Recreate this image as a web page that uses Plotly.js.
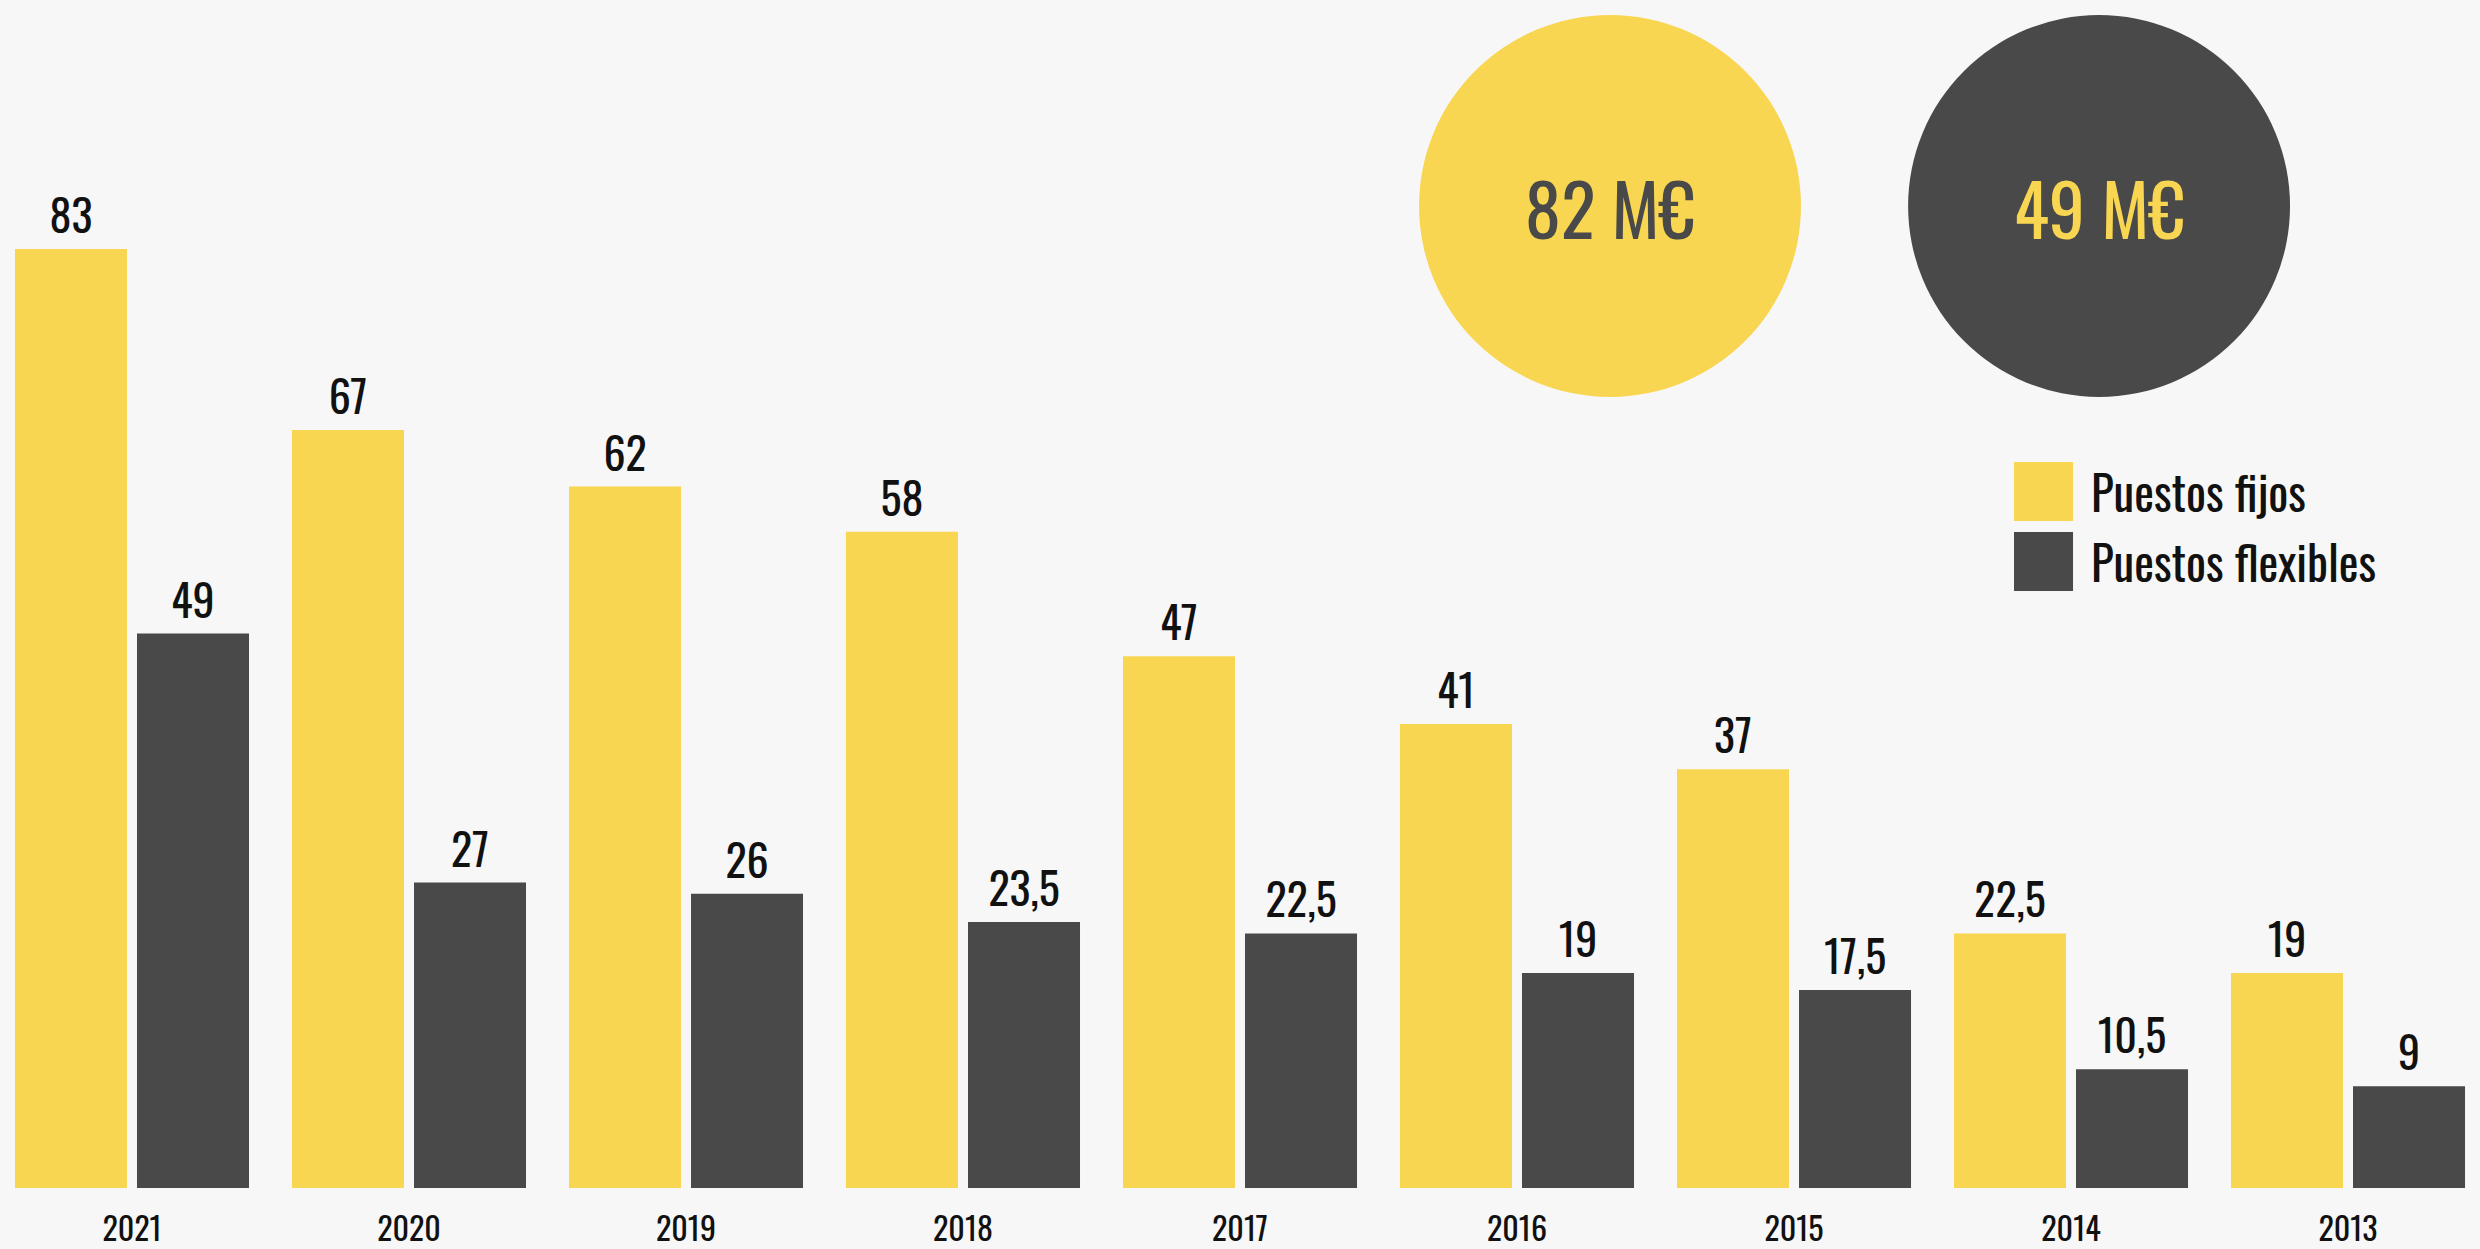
<!DOCTYPE html>
<html>
<head>
<meta charset="utf-8">
<script src="https://cdn.plot.ly/plotly-3.0.1.min.js"></script>
<style>
  html, body { margin: 0; padding: 0; background: #f7f7f7; }
  #chart { width: 2480px; height: 1249px; }
</style>
</head>
<body>
<div id="chart"></div>
<script>
// Data
const years = ['2021', '2020', '2019', '2018', '2017', '2016', '2015', '2014', '2013'];
const fijos = [83, 67, 62, 58, 47, 41, 37, 22.5, 19];
const flexibles = [49, 27, 26, 23.5, 22.5, 19, 17.5, 10.5, 9];
const seriesNames = ['Puestos fijos', 'Puestos flexibles'];
const totals = [82, 49];

const YELLOW = '#f9d651';
const DARK = '#494949';
const FONT = "Oswald, 'Liberation Sans Narrow', 'DejaVu Sans Condensed', sans-serif";

// Spanish decimal comma for the value labels
const fmt = v => String(v).replace('.', ',');

const traces = [
  {
    x: years,
    y: fijos,
    type: 'bar',
    name: seriesNames[0],
    marker: { color: YELLOW },
    text: fijos.map(fmt),
    textposition: 'outside',
    textfont: { family: FONT, size: 44, color: '#111111' },
    constraintext: 'none',
    cliponaxis: false,
    hoverinfo: 'skip'
  },
  {
    x: years,
    y: flexibles,
    type: 'bar',
    name: seriesNames[1],
    marker: { color: DARK },
    text: flexibles.map(fmt),
    textposition: 'outside',
    textfont: { family: FONT, size: 44, color: '#111111' },
    constraintext: 'none',
    cliponaxis: false,
    hoverinfo: 'skip'
  }
];

// Big total circles and the hand-made legend, in paper coordinates
const shapes = [
  { type: 'circle', xref: 'paper', yref: 'paper', x0: 0.5722, x1: 0.7262, y0: 0.6658, y1: 0.9874,
    fillcolor: YELLOW, line: { width: 0 } },
  { type: 'circle', xref: 'paper', yref: 'paper', x0: 0.7694, x1: 0.9234, y0: 0.6658, y1: 0.9874,
    fillcolor: DARK, line: { width: 0 } },
  { type: 'rect', xref: 'paper', yref: 'paper', x0: 0.8121, x1: 0.8359, y0: 0.5614, y1: 0.6111,
    fillcolor: YELLOW, line: { width: 0 } },
  { type: 'rect', xref: 'paper', yref: 'paper', x0: 0.8121, x1: 0.8359, y0: 0.5025, y1: 0.5522,
    fillcolor: DARK, line: { width: 0 } }
];

const annotations = [
  { xref: 'paper', yref: 'paper', x: 0.6492, y: 0.826, text: totals[0] + ' M€', showarrow: false,
    font: { family: FONT, size: 72, color: DARK }, xanchor: 'center', yanchor: 'middle' },
  { xref: 'paper', yref: 'paper', x: 0.8464, y: 0.826, text: totals[1] + ' M€', showarrow: false,
    font: { family: FONT, size: 72, color: YELLOW }, xanchor: 'center', yanchor: 'middle' },
  { xref: 'paper', yref: 'paper', x: 0.8422, y: 0.5863, text: seriesNames[0], showarrow: false,
    font: { family: FONT, size: 47, color: '#111111' }, xanchor: 'left', yanchor: 'middle' },
  { xref: 'paper', yref: 'paper', x: 0.8422, y: 0.5274, text: seriesNames[1], showarrow: false,
    font: { family: FONT, size: 47, color: '#111111' }, xanchor: 'left', yanchor: 'middle' }
];

const layout = {
  width: 2480,
  height: 1249,
  margin: { l: 0, r: 0, t: 0, b: 61 },
  paper_bgcolor: '#f7f7f7',
  plot_bgcolor: '#f7f7f7',
  barmode: 'group',
  bargap: 0.119,
  bargroupgap: 0.082,
  showlegend: false,
  font: { family: FONT, color: '#111111' },
  xaxis: {
    type: 'category',
    range: [-0.4765, 8.4765],
    showgrid: false,
    zeroline: false,
    showline: false,
    ticks: '',
    ticklabelstandoff: 20,
    tickfont: { family: FONT, size: 32, color: '#111111' },
    fixedrange: true
  },
  yaxis: {
    range: [0, 105],
    visible: false,
    showgrid: false,
    zeroline: false,
    fixedrange: true
  },
  shapes: shapes,
  annotations: annotations
};

Plotly.newPlot('chart', traces, layout, { displayModeBar: false, staticPlot: true });
</script>
</body>
</html>
